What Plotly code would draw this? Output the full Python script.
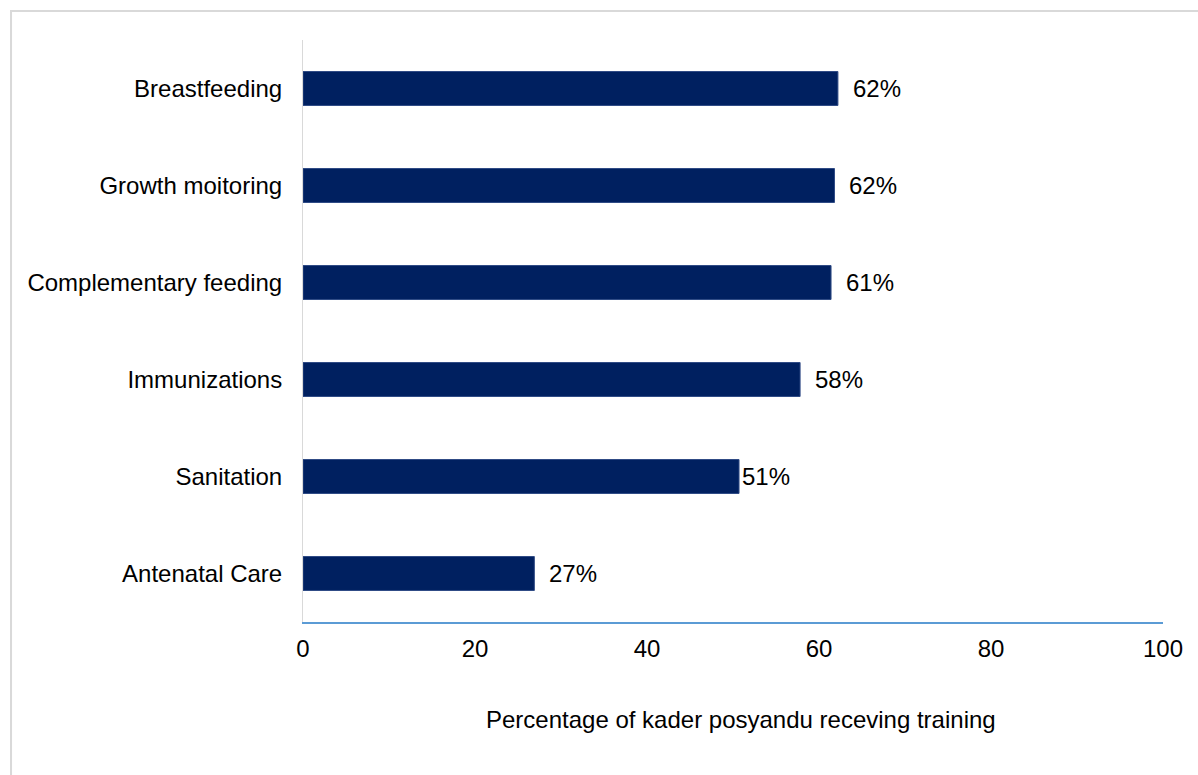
import plotly.graph_objects as go

# Training topics (bottom to top) and share of kader posyandu trained (%)
topics = ["Antenatal Care", "Sanitation", "Immunizations",
          "Complementary feeding", "Growth moitoring", "Breastfeeding"]
pct_trained = [26.9, 50.7, 57.8, 61.4, 61.8, 62.2]
x_ticks = [0, 20, 40, 60, 80, 100]
x_title = "Percentage of kader posyandu receving training"

FONT = "Arial, Liberation Sans, sans-serif"
NAVY = "#002060"

fig = go.Figure(
    go.Bar(
        y=topics,
        x=pct_trained,
        orientation="h",
        width=0.35,
        marker=dict(color=NAVY, line=dict(color="#2f4b85", width=1)),
        hoverinfo="skip",
    )
)

# Value labels to the right of each bar
label_gap = [13, 1, 13, 13, 13, 13]
for t, v, g in zip(topics, pct_trained, label_gap):
    fig.add_annotation(
        x=v, y=t, text=f"{v:.0f}%", showarrow=False,
        xanchor="left", yanchor="middle", xshift=g,
        font=dict(family=FONT, size=24, color="#000000"),
    )

# Horizontal axis title, placed under the tick labels
fig.add_annotation(
    x=0.5, y=0, xref="paper", yref="paper", text=x_title,
    showarrow=False, xanchor="center", yanchor="middle",
    xshift=8, yshift=-97,
    font=dict(family=FONT, size=24, color="#000000"),
)

# Light grey frame around the chart area
fig.add_shape(
    type="rect", xref="paper", yref="paper",
    x0=-0.3395, x1=1.05, y0=-0.28, y1=1.0498,
    line=dict(color="#d9d9d9", width=2), fillcolor="rgba(0,0,0,0)",
    layer="below",
)

fig.update_layout(
    width=1198, height=775,
    margin=dict(l=303, r=35, t=40, b=153),
    paper_bgcolor="white", plot_bgcolor="white",
    showlegend=False,
    font=dict(family=FONT, size=24, color="#000000"),
    xaxis=dict(
        range=[0, 100], tickvals=x_ticks, ticks="",
        ticklabelstandoff=4,
        showgrid=False, zeroline=False,
        showline=True, linecolor="#5b9bd5", linewidth=2,
        tickfont=dict(size=24, color="#000000"),
        fixedrange=True,
    ),
    yaxis=dict(
        categoryorder="array", categoryarray=topics,
        showgrid=False, zeroline=False,
        showline=True, linecolor="#d9d9d9", linewidth=1,
        ticks="", ticklabelstandoff=15,
        tickfont=dict(size=24, color="#000000"),
        fixedrange=True,
    ),
)

fig.write_html("out.html")
